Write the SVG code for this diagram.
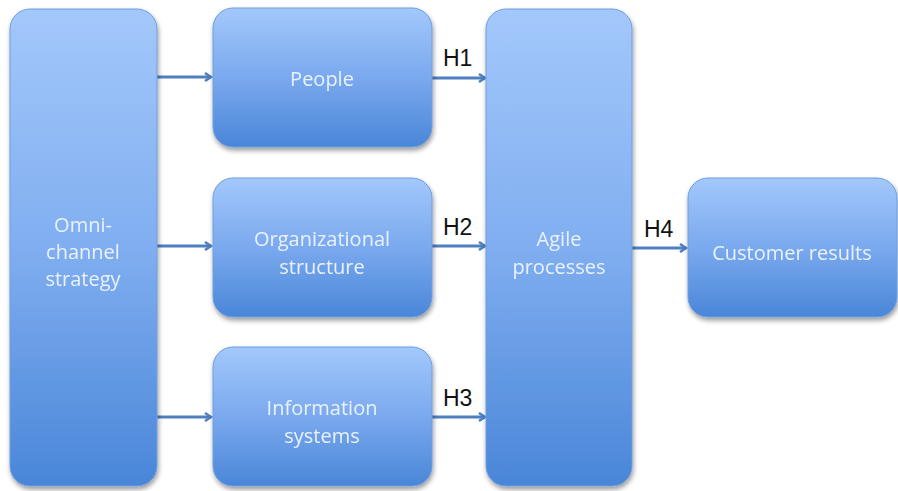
<svg xmlns="http://www.w3.org/2000/svg" width="898" height="491" viewBox="0 0 898 491">
<style>
.box{fill:url(#g);stroke:#6f9ee0;stroke-width:1}
.tall{fill:url(#gt);stroke:#6f9ee0;stroke-width:1}
.t{font-family:"Open Sans","Liberation Sans",sans-serif;font-size:20px;fill:#eaf2ff;text-anchor:middle}
.h{font-family:"Liberation Sans",sans-serif;font-size:23px;fill:#111}
.c{stroke:#4f7fc0;stroke-width:3;fill:none;marker-end:url(#a)}
</style>
<defs>
<linearGradient id="g" x1="0" y1="0" x2="0" y2="1">
<stop offset="0" stop-color="#a3c8fb"/><stop offset="0.5" stop-color="#7aa9ee"/><stop offset="1" stop-color="#4a86d8"/>
</linearGradient>
<linearGradient id="gt" x1="0" y1="0" x2="0" y2="1">
<stop offset="0" stop-color="#a3c8fb"/><stop offset="0.5" stop-color="#80aef0"/><stop offset="1" stop-color="#4a86d8"/>
</linearGradient>
<filter id="s" x="-10%" y="-10%" width="120%" height="120%">
<feGaussianBlur in="SourceAlpha" stdDeviation="2.5"/><feOffset dx="1" dy="3"/>
<feComponentTransfer><feFuncA type="linear" slope="0.4"/></feComponentTransfer>
<feMerge><feMergeNode/><feMergeNode in="SourceGraphic"/></feMerge>
</filter>
<marker id="a" markerWidth="10" markerHeight="10" refX="7" refY="5" orient="auto" markerUnits="userSpaceOnUse">
<path d="M1,1 L7,5 L1,9" fill="none" stroke="#4f7fc0" stroke-width="2.5"/>
</marker>
</defs>
<g id="connectors">
<line class="c" x1="157" y1="77" x2="211" y2="77"/>
<line class="c" x1="157" y1="246" x2="211" y2="246"/>
<line class="c" x1="157" y1="417" x2="211" y2="417"/>
<line class="c" x1="432" y1="78" x2="485" y2="78"/>
<line class="c" x1="432" y1="246" x2="485" y2="246"/>
<line class="c" x1="432" y1="417" x2="485" y2="417"/>
<line class="c" x1="632" y1="248" x2="686" y2="248"/>
<text class="h" x="443" y="66">H1</text>
<text class="h" x="443" y="235">H2</text>
<text class="h" x="443" y="406">H3</text>
<text class="h" x="644" y="237">H4</text>
</g>
<g id="omni" filter="url(#s)">
<rect class="tall" x="10" y="9" width="147" height="477" rx="20"/>
<text class="t" x="83" y="232">Omni-</text>
<text class="t" x="83" y="259">channel</text>
<text class="t" x="83" y="286">strategy</text>
</g>
<g id="people" filter="url(#s)">
<rect class="box" x="213" y="8" width="219" height="139" rx="20"/>
<text class="t" x="322" y="86">People</text>
</g>
<g id="org" filter="url(#s)">
<rect class="box" x="213" y="178" width="219" height="139" rx="20"/>
<text class="t" x="322" y="246">Organizational</text>
<text class="t" x="322" y="274">structure</text>
</g>
<g id="info" filter="url(#s)">
<rect class="box" x="213" y="347" width="219" height="139" rx="20"/>
<text class="t" x="322" y="415">Information</text>
<text class="t" x="322" y="443">systems</text>
</g>
<g id="agile" filter="url(#s)">
<rect class="tall" x="486" y="9" width="146" height="477" rx="20"/>
<text class="t" x="559" y="246">Agile</text>
<text class="t" x="559" y="274">processes</text>
</g>
<g id="customer" filter="url(#s)">
<rect class="box" x="688" y="178" width="209" height="139" rx="20"/>
<text class="t" x="792" y="260">Customer results</text>
</g>
</svg>
